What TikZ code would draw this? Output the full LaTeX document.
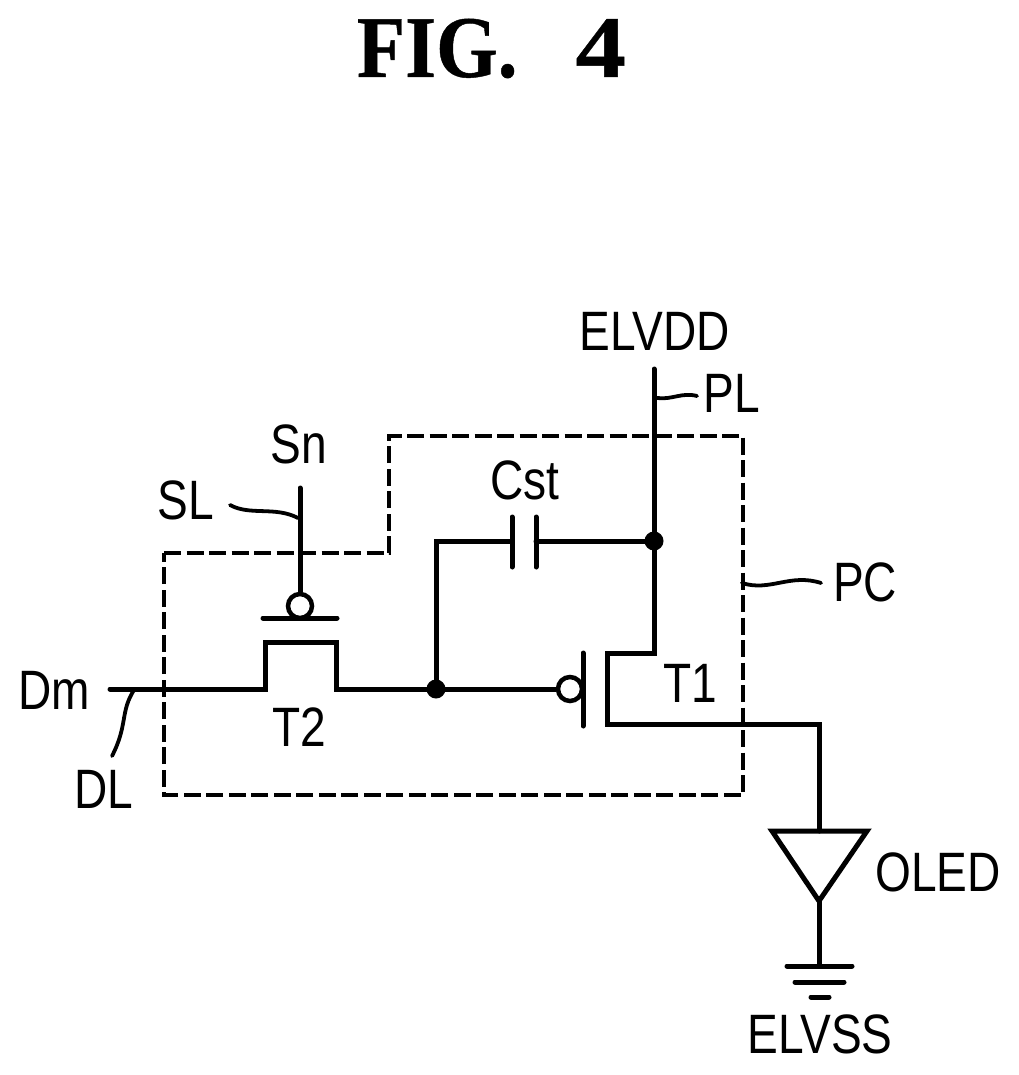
\documentclass[tikz,border=0pt]{standalone}
\usepackage{fontspec}
\setmainfont[FakeStretch=0.83]{Liberation Sans}
\newfontfamily\titlefont[FakeStretch=0.9,FakeBold=0.5]{Liberation Serif Bold}
\usetikzlibrary{calc}
\tikzset{
  x=1pt,y=-1pt,
  wire/.style={line width=5pt,line join=miter,line cap=round},
  plate/.style={line width=5pt,line cap=round},
  leader/.style={line width=3.8pt,line cap=round},
  boundary/.style={line width=3.2pt,dash pattern=on 17pt off 5.5pt},
  lbl/.style={inner sep=0pt,outer sep=0pt,anchor=base,font=\fontsize{55.5}{55.5}\selectfont},
  dot/.style={circle,fill=black,inner sep=0pt,minimum size=19pt},
  bubble/.style={circle,draw,fill=white,line width=4.5pt,inner sep=0pt,minimum size=24pt},
}
\begin{document}
\begin{tikzpicture}
\useasboundingbox (0,0) rectangle (1018,1075);
% coordinates
\coordinate (snTop) at (300,488);
\coordinate (dmStart) at (110,689);
\coordinate (t2a) at (265,689);
\coordinate (t2b) at (265,642);
\coordinate (t2c) at (336,642);
\coordinate (t2d) at (336,689);
\coordinate (gateL) at (263,618);
\coordinate (gateR) at (337,618);
\coordinate (vddTop) at (654,369);
\coordinate (t1a) at (654,653);
\coordinate (t1b) at (607,653);
\coordinate (t1c) at (607,724);
\coordinate (t1d) at (819,724);
\coordinate (capTop) at (436,541);
\coordinate (capL) at (512,541);
\coordinate (capR) at (536,541);
\coordinate (capLa) at (512,517);
\coordinate (capLb) at (512,567);
\coordinate (capRa) at (536,517);
\coordinate (capRb) at (536,567);
\coordinate (t1gA) at (583,653);
\coordinate (t1gB) at (583,726);
\coordinate (oledTop) at (819,831);
\coordinate (oledL) at (772,831);
\coordinate (oledR) at (867,831);
\coordinate (oledTip) at (819,901);
\coordinate (gnd) at (819,966);
\coordinate (g1a) at (787,966);
\coordinate (g1b) at (852,966);
\coordinate (g2a) at (795,982);
\coordinate (g2b) at (844,982);
\coordinate (g3a) at (811,997);
\coordinate (g3b) at (829,997);
% boundary
\draw[boundary] (164,553) -- (389,553) -- (389,436) -- (743,436) -- (743,795) -- (164,795) -- cycle;
% junctions and bubbles
\node[dot] (j1) at (436,689) {};
\node[dot] (j2) at (654,541) {};
\node[bubble] (b2) at (300,606) {};
\node[bubble] (b1) at (570,689) {};
% wires
\draw[wire] (snTop) -- (b2.north);
\draw[plate] (gateL) -- (gateR);
\draw[wire] (dmStart) -- (t2a) -- (t2b) -- (t2c) -- (t2d) -- (j1.center);
\draw[wire] (j1.center) -- (b1.west);
\draw[wire] (j1.center) -- (capTop) -- (capL);
\draw[wire] (capR) -- (j2.center);
\draw[plate] (capLa) -- (capLb);
\draw[plate] (capRa) -- (capRb);
\draw[wire] (vddTop) -- (j2.center) -- (t1a) -- (t1b) -- (t1c) -- (t1d) -- (oledTop);
\draw[plate] (t1gA) -- (t1gB);
\draw[wire,line join=miter] (oledL) -- (oledR) -- (oledTip) -- cycle;
\draw[wire] (oledTip) -- (gnd);
\draw[plate] (g1a) -- (g1b);
\draw[plate] (g2a) -- (g2b);
\draw[plate] (g3a) -- (g3b);
% leaders
\coordinate (slA) at (230,505); \coordinate (slB) at (298,518);
\coordinate (dlA) at (134,690); \coordinate (dlB) at (112,756);
\coordinate (plA) at (657,398); \coordinate (plB) at (697,396);
\coordinate (pcA) at (742,583); \coordinate (pcB) at (821,583);
\draw[leader] (slA) .. controls (250,516) and (275,506) .. (slB);
\draw[leader] (dlA) .. controls (120,712) and (128,725) .. (dlB);
\draw[leader] (plA) .. controls (672,400) and (682,392) .. (plB);
\draw[leader] (pcA) .. controls (770,592) and (790,573) .. (pcB);
% labels
\node[inner sep=0pt,anchor=base,font=\titlefont\fontsize{88}{88}\selectfont] (title) at (491.5,77) {FIG.\hspace{58pt}{\addfontfeature{FakeStretch=1.15}4}};
\node[lbl] (Sn) at (299,463) {Sn};
\node[lbl] (SL) at (186,519) {SL};
\node[lbl] (Dm) at (54,709) {Dm};
\node[lbl] (T2) at (299,746) {T2};
\node[lbl] (DL) at (104,808) {DL};
\node[lbl] (ELVDD) at (655,350) {ELVDD};
\node[lbl] (PL) at (732,412) {PL};
\node[lbl] (Cst) at (525,499) {Cst};
\node[lbl] (PC) at (865,601) {PC};
\node[lbl] (T1) at (690,702) {T1};
\node[lbl] (OLED) at (938,891) {OLED};
\node[lbl] (ELVSS) at (820,1053) {ELVSS};
\end{tikzpicture}
\end{document}
